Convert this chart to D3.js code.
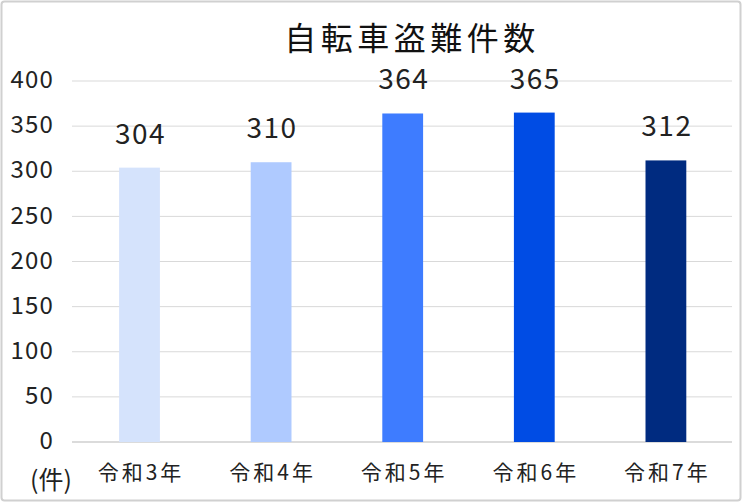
<!DOCTYPE html>
<html><head><meta charset="utf-8">
<script src="https://cdn.jsdelivr.net/npm/d3@7"></script>
<style>body{margin:0;background:#fff;}svg{display:block;}</style>
</head><body>
<script>
const categories = ["令和3年","令和4年","令和5年","令和6年","令和7年"];
const values = [304, 310, 364, 365, 312];
const colors = ["#D5E3FC","#AFCAFF","#3E7CFF","#004CE4","#002B80"];
const yTicks = [0,50,100,150,200,250,300,350,400];
const title = "自転車盗難件数";
const unitLabel = "(件)";

const W = 743, H = 503;
const font = "'Noto Sans CJK JP', 'Noto Sans', sans-serif";
const svg = d3.select("body").append("svg").attr("width", W).attr("height", H);

svg.append("rect").attr("x",1.5).attr("y",1.5).attr("width",W-4).attr("height",H-4)
  .attr("fill","#fff").attr("stroke","#d0d0d0").attr("stroke-width",2).attr("rx",3);

const x = d3.scaleBand().domain(categories).range([73.7, 731.7]).paddingInner(0.69).paddingOuter(0.345);
const y = d3.scaleLinear().domain([0,400]).range([442, 81]);

const grid = svg.append("g");
grid.selectAll("line").data(yTicks).join("line")
  .attr("x1", 72).attr("x2", 732)
  .attr("y1", d => y(d)).attr("y2", d => y(d))
  .attr("stroke", d => d===0 ? "#cfcfcf" : "#d9d9d9").attr("stroke-width", d => d===0 ? 1.5 : 1);

const yAxis = d3.axisLeft(y).tickValues(yTicks).tickSize(0).tickPadding(0);
const gy = svg.append("g").attr("transform","translate(54,0)").call(yAxis);
gy.select(".domain").remove();
gy.selectAll("text").attr("font-family", font).attr("font-size", 24).attr("fill","#222")
  .attr("letter-spacing", 1.2).attr("dy","0.28em");

svg.append("g").selectAll("rect").data(values).join("rect")
  .attr("x", (d,i) => x(categories[i]))
  .attr("width", x.bandwidth())
  .attr("y", d => y(d))
  .attr("height", d => y(0) - y(d))
  .attr("fill", (d,i) => colors[i]);

svg.append("g").selectAll("text").data(values).join("text")
  .attr("x", (d,i) => x(categories[i]) + x.bandwidth()/2 + 1)
  .attr("y", d => y(d) - 24)
  .attr("text-anchor","middle")
  .attr("font-family", font).attr("font-size", 28).attr("fill","#222")
  .attr("letter-spacing", 1.5)
  .text(d => d);

const xAxis = d3.axisBottom(x).tickSize(0).tickPadding(0);
const gx = svg.append("g").attr("transform","translate(0,442)").call(xAxis);
gx.select(".domain").remove();
gx.selectAll("text").attr("font-family", font).attr("font-size", 21).attr("fill","#222")
  .attr("letter-spacing", 3).attr("x", 1.5).attr("y", 31).attr("dy","0.35em");

svg.append("text").attr("x", 51).attr("y", 489).attr("text-anchor","middle")
  .attr("font-family", font).attr("font-size", 25).attr("fill","#222").text(unitLabel);

svg.append("text").attr("x", 412).attr("y", 50).attr("text-anchor","middle")
  .attr("font-family", font).attr("font-size", 32).attr("fill","#111")
  .attr("letter-spacing", 4.5).text(title);
</script>
</body></html>
